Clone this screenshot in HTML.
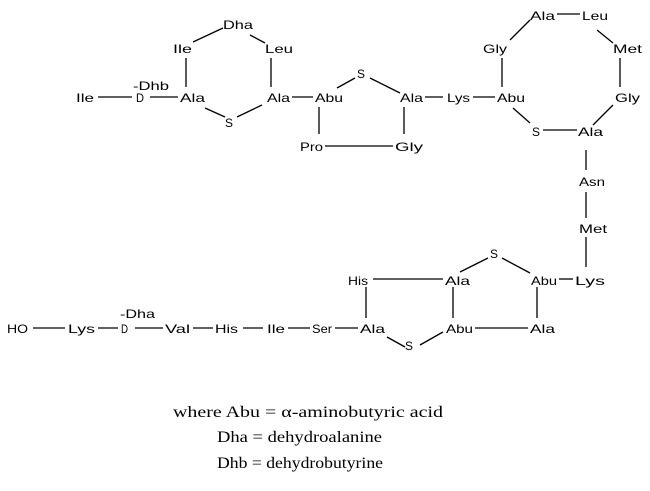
<!DOCTYPE html>
<html><head><meta charset="utf-8"><style>
html,body{margin:0;padding:0;background:#fff;}
svg{display:block;}
.t{font-family:"Liberation Sans",sans-serif;font-size:12px;fill:#000;}
.s{font-family:"Liberation Serif",serif;font-size:16px;fill:#000;}
line{stroke:#000;stroke-width:1.3;}
</style></head><body>
<svg width="650" height="491" viewBox="0 0 650 491" xmlns="http://www.w3.org/2000/svg">
<g class="t">
<text x="76" y="102" textLength="18" lengthAdjust="spacingAndGlyphs">Ile</text>
<text x="136" y="102" textLength="8" lengthAdjust="spacingAndGlyphs">D</text>
<text x="133" y="90" textLength="36" lengthAdjust="spacingAndGlyphs">-Dhb</text>
<text x="180" y="102" textLength="25" lengthAdjust="spacingAndGlyphs">Ala</text>
<text x="173" y="53" textLength="19" lengthAdjust="spacingAndGlyphs">Ile</text>
<text x="223" y="29" textLength="30" lengthAdjust="spacingAndGlyphs">Dha</text>
<text x="265" y="53" textLength="28" lengthAdjust="spacingAndGlyphs">Leu</text>
<text x="225" y="127" textLength="8" lengthAdjust="spacingAndGlyphs">S</text>
<text x="267" y="102" textLength="23" lengthAdjust="spacingAndGlyphs">Ala</text>
<text x="315" y="102" textLength="28" lengthAdjust="spacingAndGlyphs">Abu</text>
<text x="357" y="78" textLength="8" lengthAdjust="spacingAndGlyphs">S</text>
<text x="400" y="102" textLength="23" lengthAdjust="spacingAndGlyphs">Ala</text>
<text x="300" y="151" textLength="23" lengthAdjust="spacingAndGlyphs">Pro</text>
<text x="395" y="151" textLength="28" lengthAdjust="spacingAndGlyphs">Gly</text>
<text x="447" y="102" textLength="23" lengthAdjust="spacingAndGlyphs">Lys</text>
<text x="497" y="102" textLength="28" lengthAdjust="spacingAndGlyphs">Abu</text>
<text x="483" y="53" textLength="24" lengthAdjust="spacingAndGlyphs">Gly</text>
<text x="530" y="20" textLength="25" lengthAdjust="spacingAndGlyphs">Ala</text>
<text x="582" y="20" textLength="26" lengthAdjust="spacingAndGlyphs">Leu</text>
<text x="613" y="53" textLength="29" lengthAdjust="spacingAndGlyphs">Met</text>
<text x="615" y="102" textLength="25" lengthAdjust="spacingAndGlyphs">Gly</text>
<text x="532" y="136" textLength="8" lengthAdjust="spacingAndGlyphs">S</text>
<text x="578" y="136" textLength="25" lengthAdjust="spacingAndGlyphs">Ala</text>
<text x="579" y="186" textLength="26" lengthAdjust="spacingAndGlyphs">Asn</text>
<text x="579" y="233" textLength="28" lengthAdjust="spacingAndGlyphs">Met</text>
<text x="575" y="285" textLength="30" lengthAdjust="spacingAndGlyphs">Lys</text>
<text x="531" y="285" textLength="26" lengthAdjust="spacingAndGlyphs">Abu</text>
<text x="490" y="258" textLength="8" lengthAdjust="spacingAndGlyphs">S</text>
<text x="445" y="285" textLength="25" lengthAdjust="spacingAndGlyphs">Ala</text>
<text x="348" y="285" textLength="20" lengthAdjust="spacingAndGlyphs">His</text>
<text x="360" y="333" textLength="25" lengthAdjust="spacingAndGlyphs">Ala</text>
<text x="405" y="350" textLength="8" lengthAdjust="spacingAndGlyphs">S</text>
<text x="446" y="333" textLength="27" lengthAdjust="spacingAndGlyphs">Abu</text>
<text x="530" y="333" textLength="25" lengthAdjust="spacingAndGlyphs">Ala</text>
<text x="7" y="333" textLength="21" lengthAdjust="spacingAndGlyphs">HO</text>
<text x="68" y="333" textLength="27" lengthAdjust="spacingAndGlyphs">Lys</text>
<text x="121" y="333" textLength="7" lengthAdjust="spacingAndGlyphs">D</text>
<text x="120" y="318" textLength="35" lengthAdjust="spacingAndGlyphs">-Dha</text>
<text x="165" y="333" textLength="25" lengthAdjust="spacingAndGlyphs">Val</text>
<text x="215" y="333" textLength="23" lengthAdjust="spacingAndGlyphs">His</text>
<text x="267" y="333" textLength="18" lengthAdjust="spacingAndGlyphs">Ile</text>
<text x="312" y="333" textLength="20" lengthAdjust="spacingAndGlyphs">Ser</text>
</g>
<g>
<line x1="98" y1="97" x2="132" y2="97"/>
<line x1="150" y1="97" x2="178" y2="97"/>
<line x1="186" y1="58" x2="186" y2="87"/>
<line x1="271" y1="58" x2="271" y2="87"/>
<line x1="193" y1="42" x2="223" y2="28"/>
<line x1="250" y1="35" x2="265" y2="43"/>
<line x1="205" y1="108" x2="225" y2="117"/>
<line x1="237" y1="117" x2="262" y2="105"/>
<line x1="292" y1="97" x2="313" y2="97"/>
<line x1="337" y1="88" x2="355" y2="78"/>
<line x1="370" y1="78" x2="400" y2="93"/>
<line x1="319" y1="107" x2="319" y2="134"/>
<line x1="404" y1="107" x2="404" y2="134"/>
<line x1="325" y1="146" x2="393" y2="146"/>
<line x1="425" y1="97" x2="443" y2="97"/>
<line x1="473" y1="97" x2="495" y2="97"/>
<line x1="502" y1="58" x2="502" y2="87"/>
<line x1="510" y1="40" x2="530" y2="20"/>
<line x1="557" y1="14" x2="580" y2="14"/>
<line x1="597" y1="30" x2="613" y2="43"/>
<line x1="620" y1="58" x2="620" y2="87"/>
<line x1="613" y1="105" x2="593" y2="125"/>
<line x1="513" y1="108" x2="530" y2="123"/>
<line x1="543" y1="130" x2="577" y2="130"/>
<line x1="586" y1="150" x2="586" y2="170"/>
<line x1="586" y1="192" x2="586" y2="218"/>
<line x1="586" y1="237" x2="586" y2="267"/>
<line x1="559" y1="279" x2="573" y2="279"/>
<line x1="502" y1="258" x2="530" y2="273"/>
<line x1="460" y1="272" x2="488" y2="258"/>
<line x1="373" y1="279" x2="443" y2="279"/>
<line x1="366" y1="287" x2="366" y2="318"/>
<line x1="453" y1="287" x2="453" y2="318"/>
<line x1="537" y1="287" x2="537" y2="318"/>
<line x1="475" y1="328" x2="528" y2="328"/>
<line x1="387" y1="337" x2="405" y2="347"/>
<line x1="420" y1="345" x2="443" y2="332"/>
<line x1="33" y1="328" x2="65" y2="328"/>
<line x1="98" y1="328" x2="118" y2="328"/>
<line x1="135" y1="328" x2="163" y2="328"/>
<line x1="193" y1="328" x2="213" y2="328"/>
<line x1="243" y1="328" x2="263" y2="328"/>
<line x1="288" y1="328" x2="310" y2="328"/>
<line x1="335" y1="328" x2="358" y2="328"/>
</g>
<g class="s">
<text x="173" y="417" textLength="270" lengthAdjust="spacingAndGlyphs">where Abu = α-aminobutyric acid</text>
<text x="217" y="442" textLength="165" lengthAdjust="spacingAndGlyphs">Dha = dehydroalanine</text>
<text x="217" y="468" textLength="166" lengthAdjust="spacingAndGlyphs">Dhb = dehydrobutyrine</text>
</g>
</svg>
</body></html>
